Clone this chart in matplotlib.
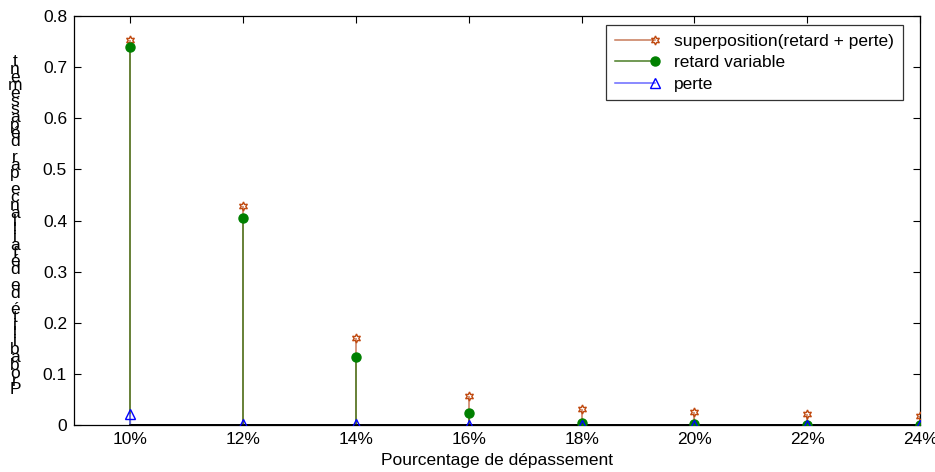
import numpy as np
import matplotlib
matplotlib.use('Agg')
import matplotlib.pyplot as plt
from matplotlib.lines import Line2D
from matplotlib.legend_handler import HandlerLine2D

plt.rcParams['font.family'] = ['Liberation Sans', 'DejaVu Sans']

# data
depassement = [10, 12, 14, 16, 18, 20, 22, 24]
pct_labels = ['10%', '12%', '14%', '16%', '18%', '20%', '22%', '24%']
superposition = [0.753, 0.428, 0.171, 0.056, 0.031, 0.025, 0.021, 0.017]
retard_variable = [0.739, 0.404, 0.133, 0.024, 0.003, 0.001, 0.0, 0.0]
perte = [0.021, 0.001, 0.001, 0.0, 0.0, 0.0, 0.0, 0.0]
y_ticks = [0, 0.1, 0.2, 0.3, 0.4, 0.5, 0.6, 0.7, 0.8]
ylabel_txt = "Probabilité de défaillance par dépassement"
xlabel_txt = "Pourcentage de dépassement"


class EndMarker(HandlerLine2D):
    # matlab style legend: line with the marker at its right end
    def create_artists(self, legend, orig_handle, xdescent, ydescent,
                       width, height, fontsize, trans):
        y = (height - ydescent) / 2
        line = Line2D([-xdescent, -xdescent + width], [y, y])
        self.update_prop(line, orig_handle, legend)
        line.set_marker('None')
        mark = Line2D([-xdescent + width], [y])
        self.update_prop(mark, orig_handle, legend)
        mark.set_linestyle('None')
        line.set_transform(trans)
        mark.set_transform(trans)
        return [line, mark]


FS = 12.5
W, H = 935, 472
fig = plt.figure(figsize=(W / 100, H / 100), dpi=100)
ax = fig.add_axes([74 / W, 1 - 425 / H, (920 - 74) / W, (425 - 16) / H])

hexagram = (6, 1, 0)
series = [
    (superposition, '#c87a5a', '#c04a10', hexagram, 'none', 6.5, 'superposition(retard + perte)'),
    (retard_variable, '#4a7d26', '#008000', 'o', '#008000', 6.5, 'retard variable'),
    (perte, '#6a6aff', '#0000ff', '^', 'none', 7.5, 'perte'),
]
handles = []
for vals, lcol, mcol, mk, mfc, ms, lab in series:
    ml, sl, bl = ax.stem(depassement, vals, basefmt='k-')
    sl.set_color(lcol)
    sl.set_linewidth(1.1)
    ml.set_marker(mk)
    ml.set_markersize(ms)
    ml.set_markeredgecolor(mcol)
    ml.set_markerfacecolor(mfc)
    ml.set_markeredgewidth(1.0)
    ml.set_zorder(3)
    bl.set_linewidth(1.8)
    bl.set_color('black')
    h, = ax.plot([], [], color=lcol, lw=1.1, marker=mk, ms=ms,
                 mec=mcol, mfc=mfc, mew=1.0, label=lab)
    handles.append(h)

ax.set_xlim(9, 24)
ax.set_ylim(0, 0.8)
ax.set_xticks(depassement)
ax.set_xticklabels(pct_labels)
ax.set_yticks(y_ticks)
ax.set_yticklabels(['0'] + ['%.1f' % v for v in y_ticks[1:]])
ax.tick_params(direction='in', top=True, right=True, labelsize=FS, length=5, pad=5)
for s in ax.spines.values():
    s.set_linewidth(0.9)

ax.set_xlabel(xlabel_txt, fontsize=FS, labelpad=4)

leg = ax.legend(handles=handles, loc='upper right', bbox_to_anchor=(0.9795, 0.978),
                fontsize=FS, frameon=True, fancybox=False, edgecolor='black',
                handlelength=2.3, handletextpad=1.1, borderpad=0.5, labelspacing=0.36,
                borderaxespad=0.0, handler_map={h: EndMarker() for h in handles})
leg.get_frame().set_linewidth(0.9)

# y label drawn as upright stacked characters, last letter on top
top_y, bot_y = 62, 389
step = (bot_y - top_y) / (len(ylabel_txt) - 1)
for i, ch in enumerate(ylabel_txt):
    if ch == ' ':
        continue
    ypix = bot_y - i * step
    fig.text(15 / W, 1 - ypix / H, ch, fontsize=FS, ha='center', va='center')

plt.savefig('out.png', dpi=100)
